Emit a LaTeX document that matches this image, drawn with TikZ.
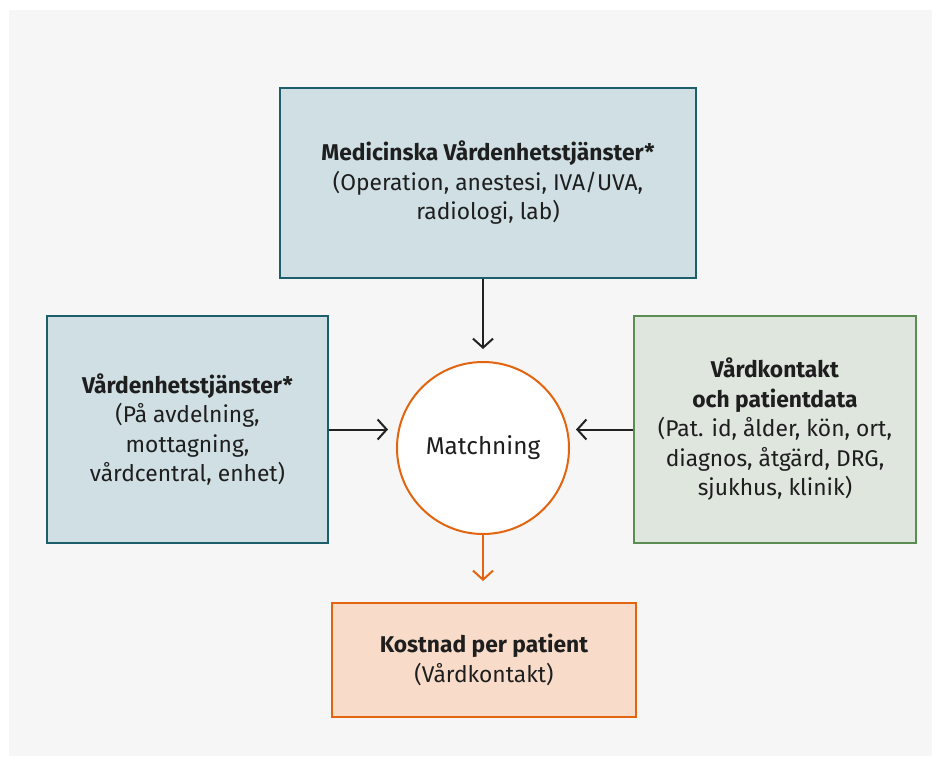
\documentclass[tikz,border=0pt]{standalone}
\usepackage{fontspec}
\setmainfont{Fira Sans}[Ligatures=NoCommon]
\usetikzlibrary{arrows.meta}

\definecolor{pagegrey}{HTML}{F6F6F6}
\definecolor{tealfill}{HTML}{CFDFE3}
\definecolor{tealline}{HTML}{1D5E6B}
\definecolor{greenfill}{HTML}{DFE6DE}
\definecolor{greenline}{HTML}{5B8D52}
\definecolor{orangeline}{HTML}{E2640F}
\definecolor{orangefill}{HTML}{F8DCC9}
\definecolor{inktext}{HTML}{1E1E1E}
\definecolor{arrowink}{HTML}{222222}

\tikzset{
  boxtext/.style={align=center, text=inktext, font=\fontsize{22.8}{29.5}\selectfont, inner sep=0pt},
  tealbox/.style={boxtext, draw=tealline, fill=tealfill, line width=2pt, rectangle},
  greenbox/.style={boxtext, draw=greenline, fill=greenfill, line width=2pt, rectangle},
  resultbox/.style={boxtext, draw=orangeline, fill=orangefill, line width=2pt, rectangle},
  matchcircle/.style={boxtext, font=\fontsize{24.3}{29.5}\selectfont, circle, draw=orangeline, fill=white, line width=2pt, minimum size=172pt},
  flow/.style={draw=arrowink, line width=2pt, -{Straight Barb[length=9pt, width=20pt, line width=2pt]}},
  orangeflow/.style={flow, draw=orangeline},
}

\begin{document}
\begin{tikzpicture}[x=1pt, y=-1pt]
  % page and panel background
  \fill[white] (0,0) rectangle (941,765);
  \fill[pagegrey] (9,10) rectangle (932,756);
  \useasboundingbox (0,0) rectangle (941,765);

  % source boxes
  \node[tealbox, minimum width=416pt, minimum height=189pt] (med) at (488,183)
    {\textbf{Medicinska Vårdenhetstjänster*}\\(Operation, anestesi, IVA/UVA,\\radiologi, lab)};
  \node[tealbox, minimum width=281pt, minimum height=227pt] (vard) at (187.5,429.5)
    {\textbf{Vårdenhetstjänster*}\\(På avdelning,\\mottagning,\\vårdcentral, enhet)};
  \node[greenbox, minimum width=282pt, minimum height=227pt] (pat) at (775,429.5)
    {\textbf{Vårdkontakt}\\\textbf{och patientdata}\\(Pat. id, ålder, kön, ort,\\diagnos, åtgärd, DRG,\\sjukhus, klinik)};

  % matching step
  \node[matchcircle] (match) at (483,448) {Matchning};

  % result box
  \node[resultbox, minimum width=304pt, minimum height=114pt] (cost) at (484,660)
    {\textbf{Kostnad per patient}\\(Vårdkontakt)};

  % connectors
  \draw[flow, shorten >=12pt] (med.south -| match.north) -- (match.north);
  \draw[flow, shorten >=8pt] (vard.east) -- (vard.east -| match.west);
  \draw[flow, shorten >=6pt] (pat.west) -- (pat.west -| match.east);
  \draw[orangeflow, shorten >=21pt] (match.south) -- (match.south |- cost.north);
\end{tikzpicture}
\end{document}
